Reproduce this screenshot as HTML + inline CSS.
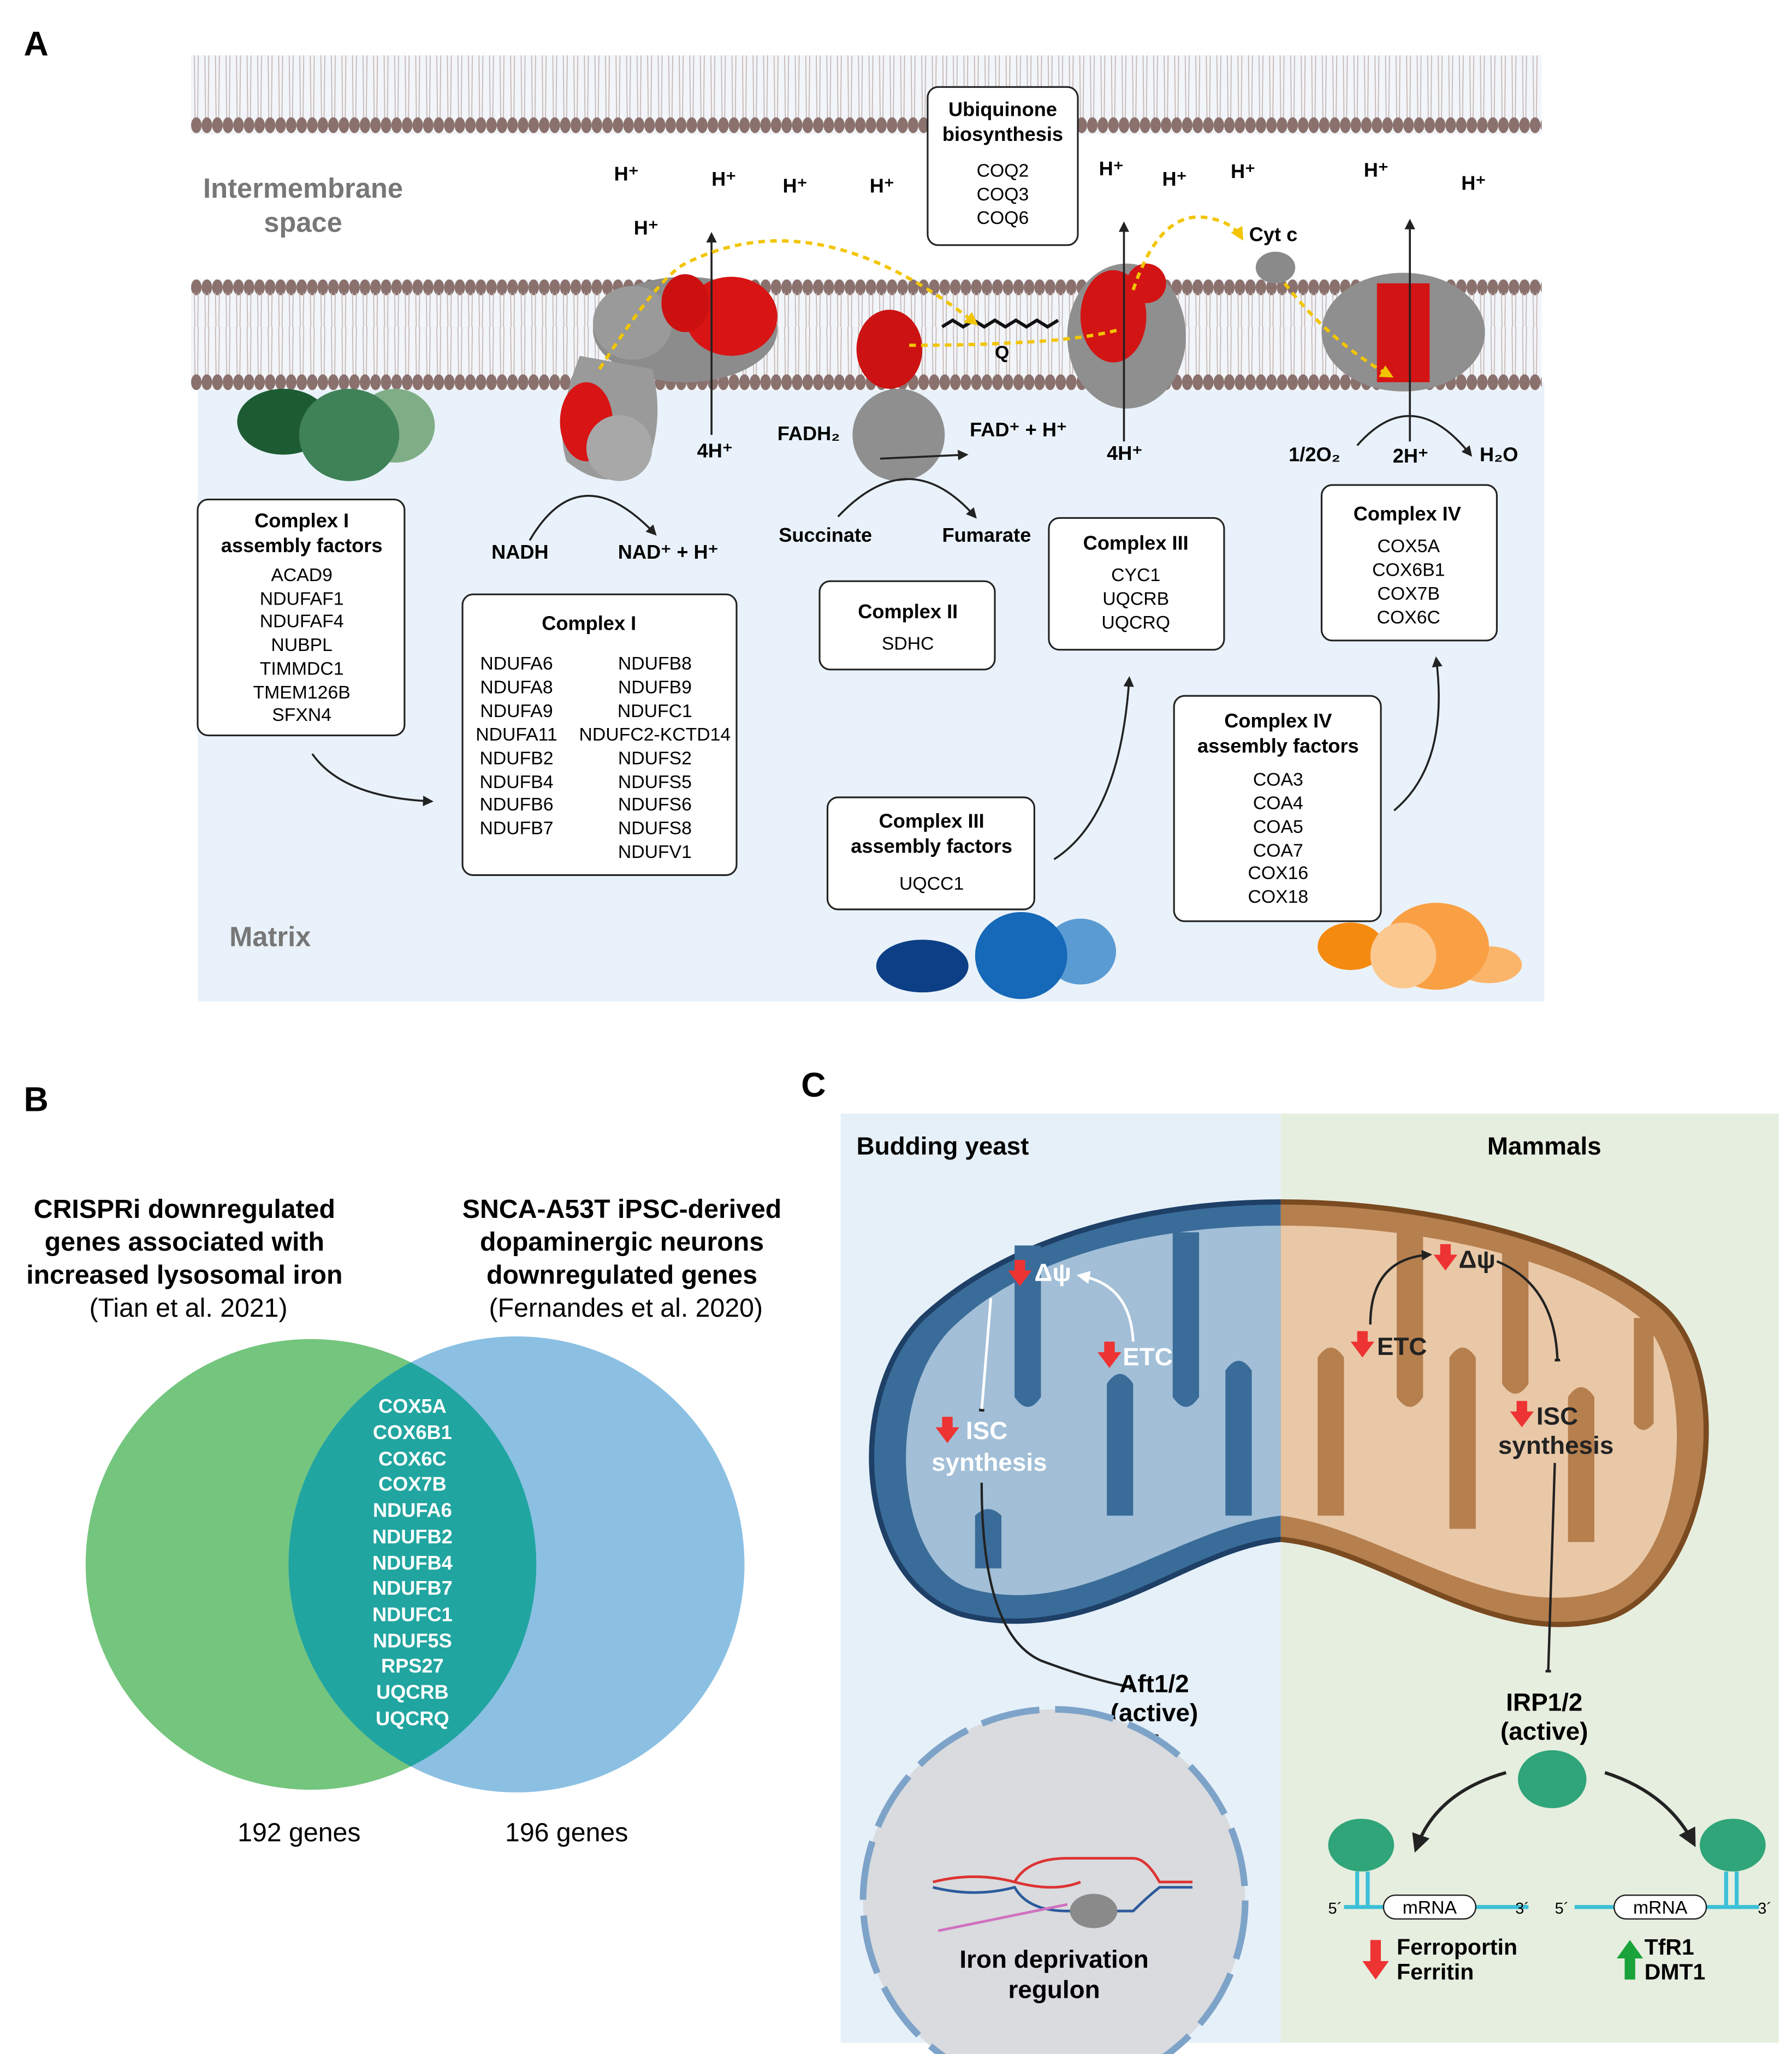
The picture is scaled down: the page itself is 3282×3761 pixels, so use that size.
<!DOCTYPE html>
<html><head><meta charset="utf-8"><style>
html,body{margin:0;padding:0;background:#fff}
svg{display:block}
text{font-family:"Liberation Sans",sans-serif}
.b{font-weight:bold}
</style></head><body>
<svg width="3282" height="3761" viewBox="0 0 1360 1558.5" preserveAspectRatio="none" xmlns="http://www.w3.org/2000/svg">
<defs>
<pattern id="lipDown" x="145" y="42" width="8" height="60" patternUnits="userSpaceOnUse">
<line x1="2.5" y1="0" x2="3" y2="48" stroke="#c4b4b1" stroke-width="0.7"/>
<line x1="5.5" y1="0" x2="5" y2="48" stroke="#c4b4b1" stroke-width="0.7"/>
<ellipse cx="4" cy="53" rx="4" ry="6" fill="#8a716d"/>
</pattern>
<pattern id="lipUp" x="145" y="212" width="8" height="40" patternUnits="userSpaceOnUse">
<ellipse cx="4" cy="6" rx="4" ry="6" fill="#8a716d"/>
<line x1="2.5" y1="10" x2="3" y2="40" stroke="#c4b4b1" stroke-width="0.7"/>
<line x1="5.5" y1="10" x2="5" y2="40" stroke="#c4b4b1" stroke-width="0.7"/>
</pattern>
<pattern id="lipUp2" x="145" y="248" width="8" height="48" patternUnits="userSpaceOnUse">
<line x1="2.5" y1="0" x2="3" y2="36" stroke="#c4b4b1" stroke-width="0.7"/>
<line x1="5.5" y1="0" x2="5" y2="36" stroke="#c4b4b1" stroke-width="0.7"/>
<ellipse cx="4" cy="42" rx="4" ry="6" fill="#8a716d"/>
</pattern>
<marker id="ar" markerWidth="8" markerHeight="8" refX="6" refY="4" orient="auto" markerUnits="userSpaceOnUse"><path d="M0,0 L8,4 L0,8 Z" fill="#222"/></marker>
<marker id="ary" markerWidth="10" markerHeight="10" refX="7" refY="5" orient="auto" markerUnits="userSpaceOnUse"><path d="M0,0 L10,5 L0,10 Z" fill="#f2c500"/></marker>
<marker id="arw" markerWidth="10" markerHeight="10" refX="7" refY="5" orient="auto" markerUnits="userSpaceOnUse"><path d="M0,0 L10,5 L0,10 Z" fill="#fff"/></marker>
<marker id="tb" markerWidth="14" markerHeight="4" refX="7" refY="2" orient="auto" markerUnits="userSpaceOnUse"><rect x="0" y="0" width="2" height="14" fill="#222" transform="translate(6,-5)"/></marker>
<marker id="arb" markerWidth="14" markerHeight="14" refX="10" refY="7" orient="auto" markerUnits="userSpaceOnUse"><path d="M0,0 L14,7 L0,14 Z" fill="#222"/></marker>
<clipPath id="cl"><rect x="600" y="880" width="372" height="400"/></clipPath>
<clipPath id="cr"><rect x="972" y="880" width="400" height="400"/></clipPath>
</defs>

<!-- PANEL A -->
<text x="18" y="42" font-size="26" class="b">A</text>
<rect x="150" y="290" width="1022" height="470" fill="#e9f2fa"/>
<rect x="145" y="42" width="1025" height="60" fill="#f2f5f9"/>
<rect x="145" y="42" width="1025" height="60" fill="url(#lipDown)"/>
<rect x="145" y="212" width="1025" height="40" fill="#f2f5f9"/>
<rect x="145" y="212" width="1025" height="40" fill="url(#lipUp)"/>
<rect x="145" y="248" width="1025" height="48" fill="#f2f5f9"/>
<rect x="145" y="248" width="1025" height="48" fill="url(#lipUp2)"/>

<text x="230" y="150" font-size="21" fill="#777" class="b" text-anchor="middle">Intermembrane</text>
<text x="230" y="176" font-size="21" fill="#777" class="b" text-anchor="middle">space</text>
<text x="205" y="718" font-size="21" fill="#777" class="b" text-anchor="middle">Matrix</text>

<rect x="704" y="66" width="114" height="120" rx="8" fill="#fff" stroke="#222" stroke-width="1.3"/>
<text x="761" y="88" font-size="15" class="b" text-anchor="middle">Ubiquinone</text>
<text x="761" y="107" font-size="15" class="b" text-anchor="middle">biosynthesis</text>
<text x="761" y="134" font-size="14" text-anchor="middle">COQ2</text>
<text x="761" y="152" font-size="14" text-anchor="middle">COQ3</text>
<text x="761" y="170" font-size="14" text-anchor="middle">COQ6</text>

<g font-size="15" class="b">
<text x="466" y="137">H⁺</text><text x="540" y="141">H⁺</text><text x="594" y="146">H⁺</text><text x="660" y="146">H⁺</text>
<text x="481" y="178">H⁺</text><text x="834" y="133">H⁺</text><text x="882" y="141">H⁺</text><text x="934" y="135">H⁺</text>
<text x="1035" y="134">H⁺</text><text x="1109" y="144">H⁺</text>
<text x="948" y="183">Cyt c</text>
</g>

<g>
<ellipse cx="520" cy="250" rx="70" ry="40" fill="#8c8c8c"/>
<ellipse cx="555" cy="240" rx="35" ry="30" fill="#d81414"/>
<ellipse cx="480" cy="245" rx="30" ry="28" fill="#9a9a9a"/>
<path d="M440,270 Q420,320 430,350 Q460,375 490,355 Q505,320 495,280 Z" fill="#9a9a9a"/>
<ellipse cx="445" cy="320" rx="20" ry="30" fill="#d81414"/>
<ellipse cx="470" cy="340" rx="25" ry="25" fill="#a8a8a8"/>
<ellipse cx="520" cy="230" rx="18" ry="22" fill="#cc1010"/>
</g>
<ellipse cx="675" cy="265" rx="25" ry="30" fill="#cc1212"/>
<ellipse cx="682" cy="330" rx="35" ry="35" fill="#8f8f8f"/>
<path d="M715,248 l8,-5 l8,5 l8,-5 l8,5 l8,-5 l8,5 l8,-5 l8,5 l8,-5 l8,5 l8,-5" fill="none" stroke="#111" stroke-width="2.5"/>
<text x="755" y="272" font-size="14" class="b">Q</text>
<ellipse cx="855" cy="255" rx="45" ry="55" fill="#8f8f8f"/>
<ellipse cx="845" cy="240" rx="25" ry="35" fill="#d31414"/>
<ellipse cx="870" cy="215" rx="15" ry="15" fill="#d31414"/>
<ellipse cx="968" cy="203" rx="15" ry="12" fill="#8a8a8a"/>
<ellipse cx="1065" cy="252" rx="62" ry="45" fill="#8f8f8f"/>
<rect x="1045" y="215" width="40" height="75" fill="#d31414"/>

<line x1="540" y1="330" x2="540" y2="178" stroke="#222" stroke-width="1.5" marker-end="url(#ar)"/>
<line x1="853" y1="335" x2="853" y2="170" stroke="#222" stroke-width="1.5" marker-end="url(#ar)"/>
<line x1="1070" y1="335" x2="1070" y2="168" stroke="#222" stroke-width="1.5" marker-end="url(#ar)"/>
<path d="M455,280 Q500,210 520,200 Q620,150 740,245" fill="none" stroke="#f2c500" stroke-width="2.5" stroke-dasharray="5,4" marker-end="url(#ary)"/>
<path d="M690,262 Q740,262 770,260 Q820,258 850,250" fill="none" stroke="#f2c500" stroke-width="2.5" stroke-dasharray="5,4"/>
<path d="M860,220 Q880,160 915,165 Q935,168 942,180" fill="none" stroke="#f2c500" stroke-width="2.5" stroke-dasharray="5,4" marker-end="url(#ary)"/>
<path d="M975,215 Q1010,260 1055,285" fill="none" stroke="#f2c500" stroke-width="2.5" stroke-dasharray="5,4" marker-end="url(#ary)"/>

<g font-size="15" class="b">
<text x="529" y="347">4H⁺</text><text x="590" y="334">FADH₂</text><text x="736" y="331">FAD⁺ + H⁺</text>
<text x="840" y="349">4H⁺</text><text x="978" y="350">1/2O₂</text><text x="1057" y="351">2H⁺</text><text x="1123" y="350">H₂O</text>
<text x="373" y="424">NADH</text><text x="469" y="424">NAD⁺ + H⁺</text>
<text x="591" y="411">Succinate</text><text x="715" y="411">Fumarate</text>
</g>
<path d="M402,410 Q440,345 497,405" fill="none" stroke="#222" stroke-width="1.5" marker-end="url(#ar)"/>
<path d="M636,392 Q690,335 740,392" fill="none" stroke="#222" stroke-width="1.5" marker-end="url(#ar)"/>
<path d="M668,348 L733,345" fill="none" stroke="#222" stroke-width="1.5" marker-end="url(#ar)"/>
<path d="M1030,338 Q1072,290 1116,345" fill="none" stroke="#222" stroke-width="1.5" marker-end="url(#ar)"/>

<ellipse cx="300" cy="323" rx="30" ry="28" fill="#7fae86"/>
<ellipse cx="215" cy="320" rx="35" ry="25" fill="#1d5c33"/>
<ellipse cx="265" cy="330" rx="38" ry="35" fill="#3f8258"/>

<rect x="150" y="379" width="157" height="179" rx="8" fill="#fff" stroke="#222" stroke-width="1.3"/>
<text x="229" y="400" font-size="15" class="b" text-anchor="middle">Complex I</text>
<text x="229" y="419" font-size="15" class="b" text-anchor="middle">assembly factors</text>
<g font-size="14" text-anchor="middle">
<text x="229" y="441">ACAD9</text><text x="229" y="459">NDUFAF1</text><text x="229" y="476">NDUFAF4</text><text x="229" y="494">NUBPL</text><text x="229" y="512">TIMMDC1</text><text x="229" y="530">TMEM126B</text><text x="229" y="547">SFXN4</text>
</g>
<path d="M237,572 Q260,605 327,608" fill="none" stroke="#222" stroke-width="1.5" marker-end="url(#ar)"/>

<rect x="351" y="451" width="208" height="213" rx="8" fill="#fff" stroke="#222" stroke-width="1.3"/>
<text x="447" y="478" font-size="15" class="b" text-anchor="middle">Complex I</text>
<g font-size="14" text-anchor="middle">
<text x="392" y="508">NDUFA6</text><text x="392" y="526">NDUFA8</text><text x="392" y="544">NDUFA9</text><text x="392" y="562">NDUFA11</text><text x="392" y="580">NDUFB2</text><text x="392" y="598">NDUFB4</text><text x="392" y="615">NDUFB6</text><text x="392" y="633">NDUFB7</text>
<text x="497" y="508">NDUFB8</text><text x="497" y="526">NDUFB9</text><text x="497" y="544">NDUFC1</text><text x="497" y="562">NDUFC2-KCTD14</text><text x="497" y="580">NDUFS2</text><text x="497" y="598">NDUFS5</text><text x="497" y="615">NDUFS6</text><text x="497" y="633">NDUFS8</text><text x="497" y="651">NDUFV1</text>
</g>

<rect x="622" y="441" width="133" height="67" rx="8" fill="#fff" stroke="#222" stroke-width="1.3"/>
<text x="689" y="469" font-size="15" class="b" text-anchor="middle">Complex II</text>
<text x="689" y="493" font-size="14" text-anchor="middle">SDHC</text>

<rect x="796" y="393" width="133" height="100" rx="8" fill="#fff" stroke="#222" stroke-width="1.3"/>
<text x="862" y="417" font-size="15" class="b" text-anchor="middle">Complex III</text>
<g font-size="14" text-anchor="middle"><text x="862" y="441">CYC1</text><text x="862" y="459">UQCRB</text><text x="862" y="477">UQCRQ</text></g>

<rect x="1003" y="368" width="133" height="118" rx="8" fill="#fff" stroke="#222" stroke-width="1.3"/>
<text x="1068" y="395" font-size="15" class="b" text-anchor="middle">Complex IV</text>
<g font-size="14" text-anchor="middle"><text x="1069" y="419">COX5A</text><text x="1069" y="437">COX6B1</text><text x="1069" y="455">COX7B</text><text x="1069" y="473">COX6C</text></g>

<rect x="628" y="605" width="157" height="85" rx="8" fill="#fff" stroke="#222" stroke-width="1.3"/>
<text x="707" y="628" font-size="15" class="b" text-anchor="middle">Complex III</text>
<text x="707" y="647" font-size="15" class="b" text-anchor="middle">assembly factors</text>
<text x="707" y="675" font-size="14" text-anchor="middle">UQCC1</text>
<path d="M800,652 Q850,620 857,515" fill="none" stroke="#222" stroke-width="1.5" marker-end="url(#ar)"/>
<ellipse cx="700" cy="733" rx="35" ry="20" fill="#0d3f86"/>
<ellipse cx="820" cy="722" rx="27" ry="25" fill="#5a9bd3"/>
<ellipse cx="775" cy="725" rx="35" ry="33" fill="#1668b8"/>

<rect x="891" y="528" width="157" height="171" rx="8" fill="#fff" stroke="#222" stroke-width="1.3"/>
<text x="970" y="552" font-size="15" class="b" text-anchor="middle">Complex IV</text>
<text x="970" y="571" font-size="15" class="b" text-anchor="middle">assembly factors</text>
<g font-size="14" text-anchor="middle"><text x="970" y="596">COA3</text><text x="970" y="614">COA4</text><text x="970" y="632">COA5</text><text x="970" y="650">COA7</text><text x="970" y="667">COX16</text><text x="970" y="685">COX18</text></g>
<path d="M1058,615 Q1100,580 1090,500" fill="none" stroke="#222" stroke-width="1.5" marker-end="url(#ar)"/>
<ellipse cx="1025" cy="718" rx="25" ry="18" fill="#f58a10"/>
<ellipse cx="1130" cy="732" rx="25" ry="14" fill="#fbb56a"/>
<ellipse cx="1090" cy="718" rx="40" ry="33" fill="#f9a045"/>
<ellipse cx="1065" cy="725" rx="25" ry="25" fill="#fbc890"/>

<!-- PANEL B -->
<text x="18" y="843" font-size="26" class="b">B</text>
<g font-size="20" class="b" text-anchor="middle">
<text x="140" y="924">CRISPRi downregulated</text>
<text x="140" y="949">genes associated with</text>
<text x="140" y="974">increased  lysosomal iron</text>
<text x="472" y="924">SNCA-A53T iPSC-derived</text>
<text x="472" y="949">dopaminergic neurons</text>
<text x="472" y="974">downregulated genes</text>
</g>
<text x="143" y="999" font-size="20" text-anchor="middle">(Tian et al. 2021)</text>
<text x="475" y="999" font-size="20" text-anchor="middle">(Fernandes et al. 2020)</text>
<circle cx="236" cy="1187" r="171" fill="#74c57d"/>
<circle cx="392" cy="1187" r="173" fill="#8bc0e3"/>
<clipPath id="vg"><circle cx="236" cy="1187" r="171"/></clipPath>
<circle cx="392" cy="1187" r="173" fill="#21a5a0" clip-path="url(#vg)"/>
<g font-size="15" class="b" fill="#fff" text-anchor="middle">
<text x="313" y="1072">COX5A</text><text x="313" y="1092">COX6B1</text><text x="313" y="1112">COX6C</text><text x="313" y="1131">COX7B</text><text x="313" y="1151">NDUFA6</text><text x="313" y="1171">NDUFB2</text><text x="313" y="1191">NDUFB4</text><text x="313" y="1210">NDUFB7</text><text x="313" y="1230">NDUFC1</text><text x="313" y="1250">NDUF5S</text><text x="313" y="1269">RPS27</text><text x="313" y="1289">UQCRB</text><text x="313" y="1309">UQCRQ</text>
</g>
<text x="227" y="1397" font-size="20" text-anchor="middle">192 genes</text>
<text x="430" y="1397" font-size="20" text-anchor="middle">196 genes</text>

<!-- PANEL C -->
<text x="608" y="832" font-size="26" class="b">C</text>
<rect x="638" y="845" width="334" height="705" fill="#e6f0f9"/>
<rect x="972" y="845" width="378" height="705" fill="#e6eedf"/>
<text x="650" y="876" font-size="19" class="b">Budding yeast</text>
<text x="1172" y="876" font-size="19" class="b" text-anchor="middle">Mammals</text>

<g clip-path="url(#cl)">
<path d="M972,912 C1080,912 1200,940 1260,990 C1320,1040 1300,1200 1220,1228 C1130,1252 1050,1175 972,1168 C900,1175 830,1250 730,1225 C650,1200 640,1060 700,1000 C770,935 880,912 972,912 Z" fill="#3a6c99" stroke="#1e3f66" stroke-width="4"/>
<path d="M972,930 C880,930 780,950 720,1010 C670,1065 680,1185 735,1205 C820,1230 890,1160 972,1150 Z" fill="#a2bfd7"/>
<g fill="#3a6c99">
<path d="M770,945 L790,945 L790,1060 Q780,1075 770,1060 Z"/>
<path d="M840,1150 L860,1150 L860,1050 Q850,1035 840,1050 Z"/>
<path d="M890,935 L910,935 L910,1060 Q900,1075 890,1060 Z"/>
<path d="M930,1150 L950,1150 L950,1040 Q940,1025 930,1040 Z"/>
<path d="M740,1190 L760,1190 L760,1150 Q750,1140 740,1150 Z"/>
</g>
</g>
<g clip-path="url(#cr)">
<path d="M972,912 C1080,912 1200,940 1260,990 C1320,1040 1300,1200 1220,1228 C1130,1252 1050,1175 972,1168 C900,1175 830,1250 730,1225 C650,1200 640,1060 700,1000 C770,935 880,912 972,912 Z" fill="#b67f4e" stroke="#7a4a20" stroke-width="4"/>
<path d="M972,930 C1080,930 1190,955 1245,1000 C1290,1045 1280,1190 1215,1208 C1130,1230 1050,1160 972,1150 Z" fill="#e9c8a7"/>
<g fill="#b67f4e">
<path d="M1000,1150 L1020,1150 L1020,1030 Q1010,1015 1000,1030 Z"/>
<path d="M1060,935 L1080,935 L1080,1060 Q1070,1075 1060,1060 Z"/>
<path d="M1100,1160 L1120,1160 L1120,1030 Q1110,1015 1100,1030 Z"/>
<path d="M1140,945 L1160,945 L1160,1050 Q1150,1065 1140,1050 Z"/>
<path d="M1190,1170 L1210,1170 L1210,1060 Q1200,1045 1190,1060 Z"/>
<path d="M1240,1000 L1255,1000 L1255,1080 Q1247,1090 1240,1080 Z"/>
</g>
</g>

<g font-size="19" class="b" fill="#fff">
<text x="785" y="972">Δψ</text><text x="852" y="1036">ETC</text><text x="733" y="1092">ISC</text><text x="707" y="1116">synthesis</text>
</g>
<g font-size="19" class="b" fill="#222">
<text x="1107" y="962">Δψ</text><text x="1045" y="1028">ETC</text><text x="1166" y="1081">ISC</text><text x="1137" y="1103">synthesis</text>
</g>
<g fill="#e33">
<path d="M770,956 h8 v8 h5 l-9,12 l-9,-12 h5 z"/>
<path d="M838,1018 h8 v8 h5 l-9,12 l-9,-12 h5 z"/>
<path d="M715,1075 h8 v8 h5 l-9,12 l-9,-12 h5 z"/>
<path d="M1093,944 h8 v8 h5 l-9,12 l-9,-12 h5 z"/>
<path d="M1030,1010 h8 v8 h5 l-9,12 l-9,-12 h5 z"/>
<path d="M1151,1063 h8 v8 h5 l-9,12 l-9,-12 h5 z"/>
</g>
<path d="M745,1070 L752,985" stroke="#fff" stroke-width="2" fill="none" marker-start="url(#tb)"/>
<path d="M860,1018 Q858,975 820,968" stroke="#fff" stroke-width="2" fill="none" marker-end="url(#arw)"/>
<path d="M1040,1005 Q1040,955 1085,952" stroke="#222" stroke-width="1.8" fill="none" marker-end="url(#ar)"/>
<path d="M1136,957 Q1180,975 1182,1032" stroke="#222" stroke-width="1.8" fill="none" marker-end="url(#tb)"/>
<path d="M745,1125 Q745,1240 790,1260 Q830,1275 858,1280" stroke="#222" stroke-width="1.8" fill="none" marker-end="url(#tb)"/>
<line x1="1180" y1="1110" x2="1175" y2="1268" stroke="#222" stroke-width="1.8" marker-end="url(#tb)"/>

<text x="876" y="1284" font-size="19" class="b" text-anchor="middle">Aft1/2</text>
<text x="876" y="1306" font-size="19" class="b" text-anchor="middle">(active)</text>
<text x="1172" y="1298" font-size="19" class="b" text-anchor="middle">IRP1/2</text>
<text x="1172" y="1320" font-size="19" class="b" text-anchor="middle">(active)</text>
<path d="M878,1316 Q870,1365 822,1398" stroke="#222" stroke-width="2.5" fill="none" marker-end="url(#arb)"/>

<circle cx="800" cy="1442" r="145" fill="#d9dbde" stroke="#7ea3c9" stroke-width="5" stroke-dasharray="45,12"/>
<path d="M708,1428 Q740,1420 770,1428 Q800,1436 820,1428" stroke="#d33" stroke-width="2" fill="none"/>
<path d="M770,1428 Q780,1410 810,1410 L860,1410 Q870,1410 880,1428 L905,1428" stroke="#d33" stroke-width="2" fill="none"/>
<path d="M708,1432 Q740,1440 770,1432 Q780,1450 810,1450 L860,1450 Q870,1440 880,1432 L905,1432" stroke="#2c5a9c" stroke-width="2" fill="none"/>
<path d="M712,1465 Q760,1455 810,1445" stroke="#d070c0" stroke-width="2" fill="none"/>
<ellipse cx="830" cy="1450" rx="18" ry="13" fill="#8a8a8a"/>
<text x="800" y="1493" font-size="19" class="b" text-anchor="middle">Iron deprivation</text>
<text x="800" y="1516" font-size="19" class="b" text-anchor="middle">regulon</text>

<ellipse cx="1178" cy="1350" rx="26" ry="22" fill="#2fa579"/>
<path d="M1143,1345 Q1090,1360 1075,1402" stroke="#222" stroke-width="2.5" fill="none" marker-end="url(#arb)"/>
<path d="M1218,1345 Q1265,1360 1285,1398" stroke="#222" stroke-width="2.5" fill="none" marker-end="url(#arb)"/>
<ellipse cx="1033" cy="1400" rx="25" ry="20" fill="#2fa579"/>
<ellipse cx="1315" cy="1400" rx="25" ry="20" fill="#2fa579"/>
<line x1="1020" y1="1447" x2="1160" y2="1447" stroke="#3bc0d8" stroke-width="3"/>
<line x1="1195" y1="1447" x2="1335" y2="1447" stroke="#3bc0d8" stroke-width="3"/>
<line x1="1030" y1="1420" x2="1030" y2="1447" stroke="#3bc0d8" stroke-width="3"/>
<line x1="1038" y1="1420" x2="1038" y2="1447" stroke="#3bc0d8" stroke-width="3"/>
<line x1="1310" y1="1420" x2="1310" y2="1447" stroke="#3bc0d8" stroke-width="3"/>
<line x1="1318" y1="1420" x2="1318" y2="1447" stroke="#3bc0d8" stroke-width="3"/>
<rect x="1050" y="1438" width="70" height="18" rx="9" fill="#fff" stroke="#222"/>
<rect x="1225" y="1438" width="70" height="18" rx="9" fill="#fff" stroke="#222"/>
<text x="1085" y="1452" font-size="14" text-anchor="middle">mRNA</text>
<text x="1260" y="1452" font-size="14" text-anchor="middle">mRNA</text>
<g font-size="12"><text x="1008" y="1452">5´</text><text x="1150" y="1452">3´</text><text x="1180" y="1452">5´</text><text x="1334" y="1452">3´</text></g>
<path d="M1040,1472 h8 v16 h6 l-10,14 l-10,-14 h6 z" fill="#e33"/>
<path d="M1233,1502 h8 v-16 h6 l-10,-14 l-10,14 h6 z" fill="#19a33a"/>
<g font-size="17" class="b">
<text x="1060" y="1483">Ferroportin</text><text x="1060" y="1502">Ferritin</text>
<text x="1248" y="1483">TfR1</text><text x="1248" y="1502">DMT1</text>
</g>
</svg>
</body></html>
